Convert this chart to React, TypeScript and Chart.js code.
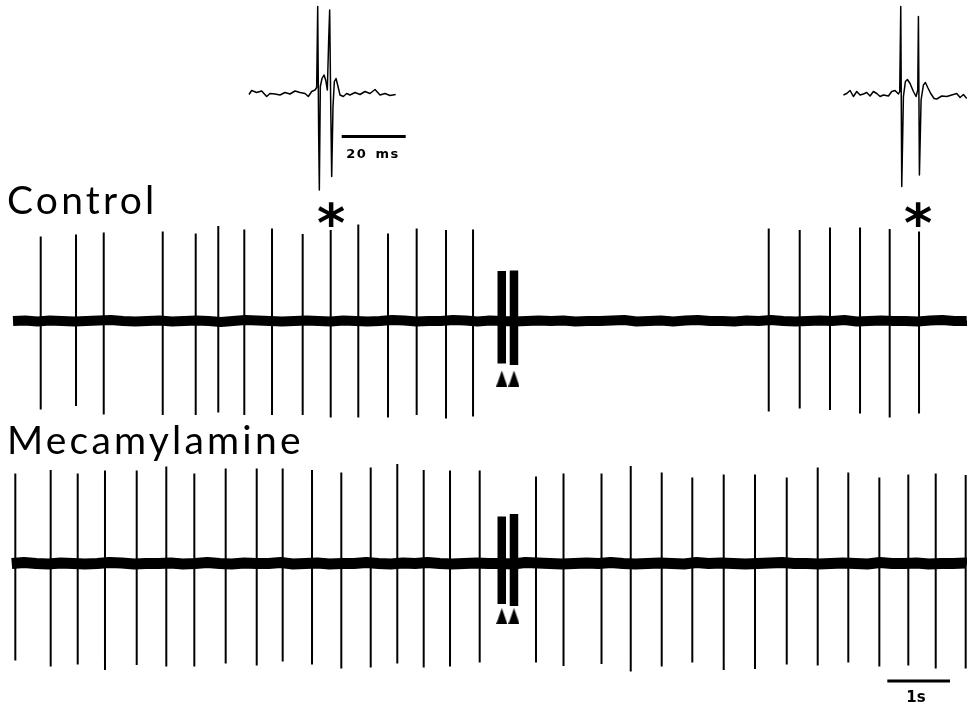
import React, { useEffect, useRef } from "react";
import { Chart, registerables } from "chart.js";

Chart.register(...registerables);

// ---------- main recordings: time in s, amplitude in µV ----------
const CONTROL_SPIKE_TIMES = [0.442, 1.005, 1.447, 2.388, 2.914, 3.274, 3.689, 4.131, 4.62, 5.067, 5.507, 5.981, 6.438, 6.906, 7.337, 12.053, 12.547, 13.03, 13.509, 13.982, 14.45];
const CONTROL_SPIKE_PEAKS = [169, 173, 177, 179, 175, 190, 183, 185, 174, 182, 193, 175, 185, 182, 183, 185, 182, 187, 187, 184, 179];
const CONTROL_SPIKE_TROUGHS = [-177, -170, -187, -188, -188, -183, -188, -188, -188, -193, -193, -193, -188, -195, -191, -181, -175, -178, -185, -193, -185];

const MEC_SPIKE_TIMES = [0.037, 0.601, 1.032, 1.467, 1.973, 2.445, 2.892, 3.392, 3.887, 4.301, 4.769, 5.236, 5.705, 6.129, 6.55, 6.97, 7.443, 8.341, 8.78, 9.386, 9.852, 10.346, 10.834, 11.335, 11.834, 12.34, 12.834, 13.322, 13.817, 14.279, 14.716, 15.194];
const MEC_SPIKE_PEAKS = [180, 187, 180, 186, 186, 194, 180, 190, 190, 190, 187, 182, 192, 199, 187, 186, 186, 174, 180, 180, 195, 182, 172, 178, 178, 172, 192, 182, 172, 178, 180, 177];
const MEC_SPIKE_TROUGHS = [-194, -206, -202, -213, -203, -206, -206, -200, -204, -196, -202, -210, -208, -200, -208, -206, -198, -198, -205, -201, -216, -206, -198, -213, -211, -202, -204, -198, -206, -204, -210, -210];

// stimulus artefacts (arrowheads)
const STIM_TIMES = [7.795, 7.99];
const CONTROL_STIM_TOPS = [100, 101];
const CONTROL_STIM_BOTTOMS = [-85, -88];
const MEC_STIM_TOPS = [94, 99];
const MEC_STIM_BOTTOMS = [-81, -85];

// baseline noise (µV)
const CONTROL_NOISE = [0, 1, -1, 1, 0, -1, 0, 1, 2, 0, -1, 0, 1, -1, 0, 1, 0, -2, 0, 2, 1, 0, -1, 0, 1, 0, -1, 1, 0, -1, 0, 2, 1, -1, 0, 0, 2, 1, -1, 1, 0, -1, 0, 1, 0, 1, -1, 0, 0, 1, 2, -1, 0, 1, -1, 1, 2, 0, 0, -1, 1, 0, 2, 0, -1, 0, 1, 0, 2, -1, 0, 1, 0, 0, -1, 1, 2, 0, 0, 1];
const MEC_NOISE = [0, 2, 0, -1, 1, 0, -1, 0, 2, 1, -1, 0, 0, 1, -1, 0, 2, 0, -1, 1, 0, 0, 2, -1, 0, 1, -1, 0, 0, 2, 0, -1, 1, 0, 2, 0, -1, 0, 1, 0, 0, -1, 2, 1, 0, -1, 0, 1, 0, 2, 0, -1, 0, 1, 0, -1, 2, 0, 1, 0, -1, 0, 1, 2, 0, 0, -1, 0, 1, 0, -1, 2, 0, 0, 1, -1, 0, 0, 1, 0];

// ---------- insets: time in ms relative to first spike, amplitude in µV ----------
const INSET1_MS = [-21.47, -20.64, -19.07, -17.51, -15.95, -14.91, -13.34, -11.78, -10.22, -8.66, -7.09, -5.53, -3.97, -2.93, -1.88, -0.84, -0.32, 0, 0.3, 0.51, 0.82, 1.34, 1.97, 2.49, 3.01, 3.43, 3.74, 4.05, 4.37, 4.78, 5.2, 5.72, 6.24, 6.97, 8.01, 9.05, 10.09, 11.66, 13.22, 14.78, 16.34, 17.91, 19.47, 21.03, 22.59, 24.36];
const INSET1_UV = [-1, 7, 3, 6, -5, 1, 0, -2, 3, 0, 6, 3, 1, -5, 5, 8, 13, 175, -79, -192, 15, 31, 38, 28, 8, 108, 168, -12, -165, -25, 25, 31, 18, -2, -5, 1, -2, 3, -1, 5, 1, 9, -2, 1, -3, -1];

const INSET2_MS = [-18.02, -16.98, -15.94, -14.9, -13.85, -12.81, -11.77, -10.73, -9.69, -8.65, -7.6, -6.56, -5.52, -3.96, -2.92, -1.88, -0.83, -0.42, -0.1, 0.21, 0.73, 1.35, 1.98, 2.81, 3.85, 4.69, 5.21, 5.42, 5.73, 6.25, 6.98, 7.6, 8.33, 9.27, 10.31, 11.15, 12.71, 14.27, 15.83, 17.4, 18.44, 19.48, 20.52];
const INSET2_UV = [0, 3, 9, -3, 7, 0, 2, 5, -2, 7, 3, -3, 0, -2, 7, 9, 2, 7, 177, -183, -3, 27, 31, 23, 7, -3, 10, 157, -160, -10, 20, 25, 15, 3, -7, -8, -2, -3, 0, 3, -5, 1, -7];

// ---------- layout constants ----------
const T_MIN = -0.2073;
const T_MAX = 15.215;
const MS_MIN = -99.28;
const MS_MAX = 202.9;
const Y_MIN = -774;
const Y_MAX = 642;
const MEC_OFFSET = -485;
const INSET1_OFFSET = 454;
const INSET2_OFFSET = 452;
const INSET2_SHIFT_MS = 182.3;
const NOISE_STEP = 0.195;
const ARROW_Y_CONTROL = -115;
const ARROW_Y_MEC = MEC_OFFSET - 105;
const BAR_MS = [7.5, 27.5];
const BAR_MS_Y = 369;
const BAR_S = [13.944, 14.944];
const BAR_S_Y = -720;

function spikeSegments(times: number[], tops: number[], bottoms: number[], offset: number) {
  const pts: { x: number; y: number | null }[] = [];
  times.forEach((t, i) => {
    pts.push({ x: t, y: offset + tops[i] });
    pts.push({ x: t, y: offset + bottoms[i] });
    pts.push({ x: t, y: null });
  });
  return pts;
}

function baseline(noise: number[], offset: number, start: number) {
  return noise.map((v, i) => ({ x: Math.min(start + i * NOISE_STEP, T_MAX), y: offset + v }));
}

function makeArrowhead() {
  const c = document.createElement("canvas");
  c.width = 11;
  c.height = 16;
  const g = c.getContext("2d")!;
  g.fillStyle = "#000";
  g.beginPath();
  g.moveTo(5.5, 0);
  g.lineTo(11, 16);
  g.lineTo(0, 16);
  g.closePath();
  g.fill();
  return c;
}

export default function App() {
  const ref = useRef<HTMLCanvasElement | null>(null);

  useEffect(() => {
    document.body.style.margin = "0";
    const canvas = ref.current!;
    const arrow = makeArrowhead();
    const black = "#000";
    const common = { borderColor: black, pointRadius: 0, spanGaps: false, tension: 0, borderCapStyle: "butt" as const };

    const chart = new Chart(canvas, {
      type: "line",
      data: {
        datasets: [
          { ...common, label: "Control baseline", data: baseline(CONTROL_NOISE, 0, 0), borderWidth: 10, borderJoinStyle: "round" },
          { ...common, label: "Mecamylamine baseline", data: baseline(MEC_NOISE, MEC_OFFSET, -0.02), borderWidth: 11, borderJoinStyle: "round" },
          { ...common, label: "Control spikes", data: spikeSegments(CONTROL_SPIKE_TIMES, CONTROL_SPIKE_PEAKS, CONTROL_SPIKE_TROUGHS, 0), borderWidth: 2 },
          { ...common, label: "Mecamylamine spikes", data: spikeSegments(MEC_SPIKE_TIMES, MEC_SPIKE_PEAKS, MEC_SPIKE_TROUGHS, MEC_OFFSET), borderWidth: 2 },
          { ...common, label: "Control stim", data: spikeSegments(STIM_TIMES, CONTROL_STIM_TOPS, CONTROL_STIM_BOTTOMS, 0), borderWidth: 8.5 },
          { ...common, label: "Mec stim", data: spikeSegments(STIM_TIMES, MEC_STIM_TOPS, MEC_STIM_BOTTOMS, MEC_OFFSET), borderWidth: 8.5 },
          {
            label: "Arrowheads",
            data: [
              ...STIM_TIMES.map((t) => ({ x: t, y: ARROW_Y_CONTROL })),
              ...STIM_TIMES.map((t) => ({ x: t, y: ARROW_Y_MEC })),
            ],
            showLine: false,
            pointStyle: arrow as any,
            pointRadius: 5,
            borderColor: black,
            backgroundColor: black,
          },
          { ...common, label: "Inset control", xAxisID: "xi", data: INSET1_MS.map((m, i) => ({ x: m, y: INSET1_OFFSET + INSET1_UV[i] })), borderWidth: 1.5, borderJoinStyle: "round" },
          { ...common, label: "Inset 2", xAxisID: "xi", data: INSET2_MS.map((m, i) => ({ x: m + INSET2_SHIFT_MS, y: INSET2_OFFSET + INSET2_UV[i] })), borderWidth: 1.5, borderJoinStyle: "round" },
          { ...common, label: "20 ms bar", xAxisID: "xi", data: BAR_MS.map((m) => ({ x: m, y: BAR_MS_Y })), borderWidth: 3 },
          { ...common, label: "1 s bar", data: BAR_S.map((t) => ({ x: t, y: BAR_S_Y })), borderWidth: 3 },
        ],
      },
      options: {
        animation: false,
        responsive: false,
        maintainAspectRatio: false,
        devicePixelRatio: 1,
        layout: { padding: 0, autoPadding: false },
        events: [],
        plugins: { legend: { display: false }, tooltip: { enabled: false }, title: { display: false } },
        scales: {
          x: { type: "linear", min: T_MIN, max: T_MAX, display: false },
          xi: { type: "linear", min: MS_MIN, max: MS_MAX, display: false },
          y: { type: "linear", min: Y_MIN, max: Y_MAX, display: false },
        },
      },
    });
    return () => chart.destroy();
  }, []);

  const label: React.CSSProperties = {
    position: "absolute",
    left: 7,
    fontFamily: "Lato, 'Open Sans', sans-serif",
    fontSize: 39,
    lineHeight: "39px",
    letterSpacing: 3.2,
    color: "#000",
    whiteSpace: "nowrap",
  };
  const star: React.CSSProperties = {
    position: "absolute",
    width: 40,
    textAlign: "center",
    fontFamily: "'DejaVu Sans', sans-serif",
    fontWeight: "bold",
    fontSize: 54,
    lineHeight: "54px",
    color: "#000",
  };
  const small: React.CSSProperties = {
    position: "absolute",
    textAlign: "center",
    fontFamily: "'DejaVu Sans', sans-serif",
    fontWeight: "bold",
    color: "#000",
    whiteSpace: "nowrap",
  };

  return (
    <div style={{ position: "relative", width: 967, height: 708, background: "#fff", overflow: "hidden" }}>
      <canvas ref={ref} width={967} height={708} style={{ position: "absolute", left: 0, top: 0, width: 967, height: 708 }} />
      <div style={{ ...label, top: 180 }}>Control</div>
      <div style={{ ...label, top: 420 }}>Mecamylamine</div>
      <div style={{ ...star, left: 311, top: 197 }}>*</div>
      <div style={{ ...star, left: 898, top: 197 }}>*</div>
      <div style={{ ...small, left: 333, width: 80, top: 147, fontSize: 13, lineHeight: "13px", letterSpacing: 1.5, wordSpacing: 2 }}>20 ms</div>
      <div style={{ ...small, left: 896, width: 40, top: 690, fontSize: 15, lineHeight: "15px" }}>1s</div>
    </div>
  );
}
